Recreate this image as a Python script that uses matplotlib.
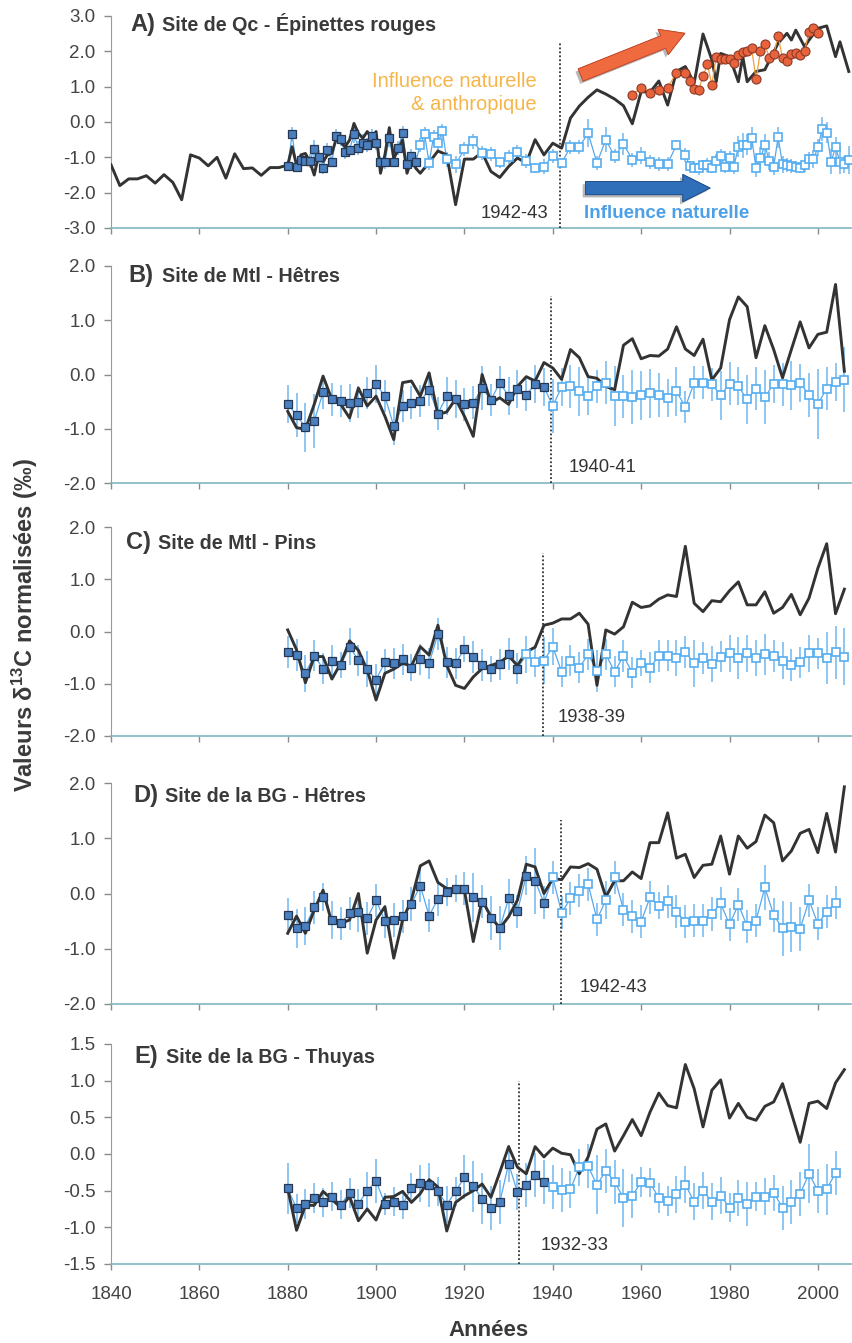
import matplotlib
matplotlib.use('Agg')
import matplotlib.pyplot as plt
import matplotlib.patheffects as pe
from matplotlib.ticker import FormatStrFormatter

plt.rcParams['font.family'] = ['Liberation Sans', 'DejaVu Sans']
plt.rcParams['mathtext.default'] = 'regular'
plt.rcParams['axes.unicode_minus'] = False

W, H = 852, 1343

# ---------------- data ----------------
# Panel A - Qc, Epinettes rouges
a_black_years = (list(range(1840, 1880, 2)) + list(range(1880, 1910)) + list(range(1910, 1975, 2))
                 + [1976, 1977, 1978, 1980, 1982, 1983, 1984, 1986, 1988, 1991, 1993, 1994,
                    1995, 1997, 1998, 2000, 2002, 2004, 2005, 2007])
a_black = [-1.21, -1.80, -1.61, -1.61, -1.52, -1.73, -1.49, -1.71, -2.20, -0.93,
           -1.02, -1.24, -1.00, -1.59, -0.90, -1.32, -1.30, -1.51, -1.29, -1.29,
           -1.22, -0.70, -1.22, -0.93, -0.89, -1.12, -1.50, -0.93, -1.12, -0.93,
           -0.89, -0.46, -0.58, -0.70, -0.51, -0.04, -0.32, -0.46, -0.27, -0.46,
           -0.27, -1.45, -0.93, -0.16, -1.03, -0.79, -0.51, -1.45, -1.08, -1.31,
           -1.45, -1.15, -0.82, -0.93, -2.34, -1.05, -1.05, -0.86, -1.40, -1.57,
           -1.26, -1.02, -1.16, -0.50, -0.93, -0.60, -0.74, 0.11, 0.45, 0.70,
           0.91, 0.79, 0.65, 0.46, -0.05, 0.86, 0.84, 1.16, 0.48, 1.43,
           1.57, 1.10, 2.49,
           1.76, 1.14, 1.94, 1.85, 1.14, 1.85, 1.14, 1.43, 1.48, 2.23, 2.51, 2.32,
           2.60, 2.13, 2.32, 2.65, 2.72, 1.85, 2.27, 1.43]
a_fill_years = list(range(1880, 1910))
a_fill = [-1.24, -0.35, -1.27, -1.08, -1.10, -1.10, -0.77, -0.98, -1.31, -0.79,
          -1.12, -0.39, -0.48, -0.86, -0.79, -0.35, -0.73, -0.60, -0.65, -0.40,
          -0.60, -1.12, -1.12, -0.46, -1.12, -0.73, -0.32, -1.20, -0.95, -1.12]
a_fill_err = [0.15, 0.2, 0.15, 0.15, 0.15, 0.2, 0.25, 0.2, 0.15, 0.2,
              0.15, 0.2, 0.2, 0.2, 0.15, 0.25, 0.2, 0.25, 0.2, 0.2,
              0.2, 0.15, 0.2, 0.25, 0.15, 0.2, 0.2, 0.25, 0.2, 0.2]
a_open_years = [1910, 1911, 1912, 1913, 1914, 1915, 1916] + list(range(1918, 1971, 2)) + list(range(1971, 2008))
a_open = [-0.65, -0.35, -1.17, -0.42, -0.60, -0.25, -1.06,
          -1.20, -0.77, -0.55, -0.88, -0.91, -1.14, -0.99, -0.85, -1.11, -1.30,
          -1.26, -0.95, -1.16, -0.70, -0.70, -0.32, -1.16, -0.50, -0.97, -0.62,
          -1.07, -0.95, -1.14, -1.18, -1.18, -0.65, -0.93,
          -1.24, -1.30, -1.30, -1.22, -1.21, -1.30, -1.11, -0.97, -1.28, -1.02,
          -1.26, -0.70, -0.66, -0.64, -0.44, -1.30, -1.02, -0.65, -1.11, -1.26,
          -0.43, -1.20, -1.22, -1.25, -1.26, -1.30, -1.21, -1.06, -1.05, -0.72,
          -0.20, -0.30, -1.12, -0.72, -1.12, -1.20, -1.07]
a_open_err = [0.2, 0.2, 0.2, 0.2, 0.2, 0.2, 0.2,
              0.25, 0.2, 0.2, 0.2, 0.2, 0.15, 0.2, 0.2, 0.2, 0.15,
              0.2, 0.2, 0.15, 0.2, 0.2, 0.4, 0.2, 0.35, 0.2, 0.3,
              0.2, 0.25, 0.2, 0.2, 0.2, 0.15, 0.2,
              0.15, 0.15, 0.2, 0.15, 0.2, 0.15, 0.2, 0.2, 0.15, 0.2,
              0.2, 0.3, 0.35, 0.3, 0.3, 0.25, 0.3, 0.3, 0.25, 0.25,
              0.3, 0.25, 0.2, 0.2, 0.15, 0.15, 0.2, 0.2, 0.25, 0.25,
              0.35, 0.3, 0.35, 0.3, 0.35, 0.25, 0.4]
a_orange_years = [1958, 1960, 1962, 1964, 1966, 1968] + list(range(1970, 2001))
a_orange = [0.77, 0.97, 0.83, 0.91, 0.97, 1.40, 1.40, 1.16, 0.94, 0.91,
            1.29, 1.63, 1.05, 1.85, 1.78, 1.78, 1.78, 1.68, 1.90, 1.97,
            2.02, 2.09, 1.21, 2.00, 2.20, 1.82, 1.92, 2.44, 1.80, 1.73,
            1.92, 1.94, 1.90, 2.01, 2.56, 2.65, 2.53]

# Panel B - Mtl, Hetres
b_black_years = list(range(1880, 2007, 2))
b_black = [-0.68, -0.98, -1.01, -0.55, -0.03, -0.46, -0.55, -0.80, -0.25, -0.58,
           -0.40, -0.77, -1.20, -0.15, -0.12, -0.40, 0.03, -0.74, -0.69, -0.45,
           -0.77, -1.14, 0.00, -0.52, -0.43, -0.55, -0.22, -0.04, -0.12, 0.22,
           0.12, -0.09, 0.46, 0.31, -0.04, -0.07, -0.22, -0.28, 0.54, 0.66,
           0.29, 0.35, 0.34, 0.47, 0.88, 0.47, 0.35, 0.65, -0.10, 0.12,
           1.01, 1.43, 1.25, 0.31, 0.90, 0.46, -0.06, 0.46, 0.97, 0.49,
           0.74, 0.78, 1.66, 0.06]
b_fill_years = list(range(1880, 1939, 2))
b_fill = [-0.54, -0.75, -0.97, -0.86, -0.33, -0.46, -0.49, -0.52, -0.51, -0.34,
          -0.18, -0.40, -0.95, -0.58, -0.52, -0.49, -0.28, -0.72, -0.40, -0.45,
          -0.55, -0.52, -0.25, -0.47, -0.15, -0.40, -0.26, -0.38, -0.17, -0.23]
b_fill_err = [0.35, 0.4, 0.45, 0.5, 0.3, 0.3, 0.3, 0.35, 0.3, 0.3,
              0.35, 0.3, 0.35, 0.3, 0.3, 0.3, 0.3, 0.3, 0.35, 0.35,
              0.3, 0.3, 0.4, 0.3, 0.3, 0.35, 0.35, 0.3, 0.35, 0.35]
b_open_years = list(range(1940, 2007, 2))
b_open = [-0.58, -0.23, -0.22, -0.31, -0.40, -0.22, -0.15, -0.40, -0.40, -0.42,
          -0.38, -0.35, -0.38, -0.44, -0.31, -0.60, -0.15, -0.15, -0.18, -0.38,
          -0.17, -0.22, -0.46, -0.26, -0.42, -0.17, -0.18, -0.20, -0.15, -0.38,
          -0.54, -0.26, -0.14, -0.10]
b_open_err = [0.5, 0.35, 0.4, 0.45, 0.35, 0.3, 0.4, 0.55, 0.4, 0.5,
              0.45, 0.45, 0.4, 0.35, 0.45, 0.3, 0.3, 0.3, 0.3, 0.45,
              0.4, 0.35, 0.45, 0.4, 0.5, 0.35, 0.4, 0.45, 0.35, 0.4,
              0.65, 0.4, 0.35, 0.6]

# Panel C - Mtl, Pins
c_black_years = list(range(1880, 2007, 2))
c_black = [0.03, -0.35, -0.98, -0.48, -0.48, -0.91, -0.61, -0.18, -0.36, -0.74,
           -1.31, -0.80, -0.72, -0.61, -0.66, -0.29, -0.45, 0.12, -0.65, -1.03,
           -1.09, -0.87, -0.71, -0.65, -0.59, -0.47, -0.65, -0.39, -0.30, 0.12,
           0.16, 0.24, 0.24, 0.35, 0.14, -1.03, 0.03, -0.05, 0.09, 0.56,
           0.46, 0.49, 0.62, 0.70, 0.67, 1.63, 0.54, 0.38, 0.59, 0.57,
           0.78, 0.95, 0.51, 0.51, 0.76, 0.35, 0.46, 0.71, 0.32, 0.64,
           1.21, 1.68, 0.34, 0.81]
c_fill_years = list(range(1880, 1933, 2))
c_fill = [-0.39, -0.45, -0.80, -0.46, -0.71, -0.56, -0.64, -0.29, -0.55, -0.72,
          -0.92, -0.59, -0.61, -0.53, -0.69, -0.53, -0.61, -0.05, -0.59, -0.61,
          -0.33, -0.49, -0.64, -0.71, -0.63, -0.43, -0.71]
c_fill_err = [0.3, 0.3, 0.35, 0.3, 0.3, 0.3, 0.25, 0.35, 0.3, 0.35,
              0.3, 0.25, 0.3, 0.3, 0.25, 0.3, 0.3, 0.3, 0.3, 0.3,
              0.25, 0.3, 0.3, 0.25, 0.3, 0.3, 0.3]
c_open_years = list(range(1934, 2007, 2))
c_open = [-0.44, -0.58, -0.56, -0.29, -0.77, -0.56, -0.69, -0.44, -0.75, -0.44,
          -0.77, -0.47, -0.79, -0.61, -0.69, -0.47, -0.46, -0.51, -0.39, -0.61,
          -0.51, -0.62, -0.48, -0.42, -0.51, -0.42, -0.51, -0.44, -0.47, -0.56,
          -0.64, -0.59, -0.42, -0.42, -0.51, -0.40, -0.48]
c_open_err = [0.35, 0.3, 0.45, 0.35, 0.3, 0.3, 0.3, 0.3, 0.4, 0.3,
              0.3, 0.3, 0.3, 0.25, 0.3, 0.3, 0.3, 0.35, 0.3, 0.45,
              0.3, 0.35, 0.3, 0.35, 0.4, 0.35, 0.35, 0.4, 0.3, 0.35,
              0.3, 0.3, 0.35, 0.3, 0.5, 0.5, 0.55]

# Panel D - BG, Hetres
d_black_years = list(range(1880, 2007, 2))
d_black = [-0.72, -0.41, -0.72, -0.30, 0.06, -0.54, -0.54, -0.48, 0.00, -1.08,
           -0.48, -0.24, -1.17, -0.48, -0.12, 0.50, 0.59, 0.20, 0.09, 0.09,
           0.06, -0.87, -0.12, -0.42, -0.63, -0.42, -0.12, 0.53, 0.48, 0.00,
           0.27, 0.25, 0.48, 0.47, 0.54, 0.44, -0.06, 0.23, 0.23, 0.39,
           0.27, 0.92, 0.92, 1.46, 0.64, 0.71, 0.29, 0.51, 0.53, 1.04,
           0.35, 1.04, 0.82, 0.94, 1.42, 1.28, 0.59, 0.77, 1.09, 1.16,
           0.74, 1.45, 0.75, 1.93]
d_fill_years = list(range(1880, 1939, 2))
d_fill = [-0.39, -0.63, -0.59, -0.25, -0.06, -0.48, -0.54, -0.36, -0.34, -0.45,
          -0.12, -0.50, -0.48, -0.41, -0.19, 0.14, -0.40, -0.10, 0.03, 0.09,
          0.09, -0.07, -0.15, -0.45, -0.63, -0.09, -0.32, 0.32, 0.23, -0.17]
d_fill_err = [0.3, 0.35, 0.35, 0.3, 0.25, 0.35, 0.3, 0.3, 0.35, 0.3,
              0.3, 0.3, 0.3, 0.3, 0.3, 0.3, 0.3, 0.3, 0.25, 0.25,
              0.3, 0.45, 0.3, 0.4, 0.4, 0.35, 0.3, 0.35, 0.6, 0.3]
d_open_years = list(range(1940, 2005, 2))
d_open = [0.29, -0.35, -0.09, 0.05, 0.17, -0.47, -0.12, 0.29, -0.29, -0.41,
          -0.51, -0.07, -0.22, -0.14, -0.33, -0.51, -0.49, -0.49, -0.37, -0.18,
          -0.56, -0.20, -0.59, -0.49, 0.11, -0.39, -0.63, -0.61, -0.64, -0.12,
          -0.55, -0.33, -0.17]
d_open_err = [0.3, 0.3, 0.3, 0.3, 0.3, 0.3, 0.35, 0.3, 0.3, 0.3,
              0.3, 0.3, 0.25, 0.3, 0.3, 0.3, 0.3, 0.3, 0.3, 0.3,
              0.3, 0.3, 0.3, 0.3, 0.4, 0.3, 0.5, 0.45, 0.4, 0.3,
              0.3, 0.3, 0.3]

# Panel E - BG, Thuyas
e_black_years = list(range(1880, 2007, 2))
e_black = [-0.47, -1.04, -0.70, -0.70, -0.51, -0.62, -0.73, -0.58, -0.91, -0.75,
           -0.90, -0.59, -0.58, -0.51, -0.66, -0.54, -0.35, -0.45, -1.05, -0.66,
           -0.57, -0.50, -0.41, -0.59, -0.25, 0.10, -0.18, -0.27, 0.10, -0.04,
           0.08, 0.01, -0.01, -0.27, -0.04, 0.34, 0.41, 0.04, 0.25, 0.47,
           0.25, 0.57, 0.83, 0.66, 0.63, 1.22, 0.89, 0.37, 0.87, 1.01,
           0.49, 0.69, 0.50, 0.46, 0.65, 0.71, 0.96, 0.56, 0.16, 0.69,
           0.72, 0.62, 0.97, 1.15]
e_fill_years = list(range(1880, 1939, 2))
e_fill = [-0.47, -0.74, -0.68, -0.60, -0.66, -0.58, -0.69, -0.53, -0.68, -0.50,
          -0.37, -0.68, -0.65, -0.69, -0.46, -0.40, -0.42, -0.51, -0.69, -0.51,
          -0.32, -0.44, -0.61, -0.73, -0.66, -0.13, -0.52, -0.42, -0.29, -0.38]
e_fill_err = [0.35, 0.2, 0.2, 0.2, 0.2, 0.2, 0.2, 0.2, 0.2, 0.25,
              0.3, 0.15, 0.2, 0.2, 0.2, 0.25, 0.3, 0.2, 0.25, 0.2,
              0.3, 0.35, 0.35, 0.3, 0.3, 0.25, 0.25, 0.3, 0.3, 0.3]
e_open_years = list(range(1940, 2005, 2))
e_open = [-0.45, -0.49, -0.48, -0.18, -0.17, -0.42, -0.23, -0.38, -0.60, -0.57,
          -0.38, -0.39, -0.60, -0.64, -0.55, -0.42, -0.65, -0.50, -0.65, -0.57,
          -0.73, -0.60, -0.68, -0.58, -0.58, -0.53, -0.73, -0.65, -0.54, -0.27,
          -0.50, -0.48, -0.26]
e_open_err = [0.3, 0.3, 0.25, 0.25, 0.3, 0.4, 0.3, 0.3, 0.4, 0.3,
              0.2, 0.2, 0.2, 0.2, 0.25, 0.25, 0.25, 0.25, 0.25, 0.25,
              0.2, 0.25, 0.3, 0.2, 0.25, 0.25, 0.3, 0.3, 0.3, 0.4,
              0.3, 0.35, 0.3]

# ---------------- style ----------------
DARK = '#333333'
TXT = '#3a3a3a'
BLUE_LINE = '#5aa8ea'
BLUE_BAR = '#6fb6f0'
BLUE_FILL = '#4a7fc0'
BLUE_EDGE = '#27374f'
OPEN_EDGE = '#55aef0'
ORANGE = '#e8623c'

fig = plt.figure(figsize=(W / 100, H / 100), dpi=100)


def px(x, y):
    # pixel position -> figure fraction
    return x / W, 1 - y / H


def make_axes(top, bottom):
    return fig.add_axes([111 / W, 1 - bottom / H, 740 / W, (bottom - top) / H])


def draw(ax, black, fill, open_, ylim, yticks, brk):
    bx, by = black
    fx, fy, fe = fill
    ox, oy, oe = open_

    # thin blue line linking all squares, then error bars
    ax.plot(fx + ox, fy + oy, '-', color=BLUE_LINE, lw=0.9, zorder=2)
    ax.errorbar(fx, fy, yerr=fe, fmt='none', ecolor=BLUE_BAR, elinewidth=1.1, capsize=0, zorder=1)
    ax.errorbar(ox, oy, yerr=oe, fmt='none', ecolor=BLUE_BAR, elinewidth=1.1, capsize=0, zorder=1)

    ax.plot(bx, by, '-', color=DARK, lw=2.1, zorder=4)

    ax.plot(fx, fy, 's', ms=5.6, mfc=BLUE_FILL, mec=BLUE_EDGE, mew=0.9, zorder=5)
    ax.plot(ox, oy, 's', ms=5.2, mfc='white', mec=OPEN_EDGE, mew=1.2, zorder=5)

    # break year
    ax.plot([brk[0], brk[0]], [ylim[0], brk[1]], color=DARK, lw=1.3, ls=(0, (1, 1.2)), zorder=3)

    ax.set_xlim(1840, 2007.5)
    ax.set_ylim(*ylim)
    ax.set_yticks(yticks)
    ax.set_xticks(range(1840, 2001, 20))
    ax.yaxis.set_major_formatter(FormatStrFormatter('%.1f'))
    ax.tick_params(axis='y', direction='out', length=5, width=1, color='#8a8a8a',
                   labelsize=13.5, labelcolor='#444444', pad=6)
    ax.tick_params(axis='x', direction='out', length=4, width=1, color='#8a8a8a',
                   labelsize=13.5, labelcolor='#444444', pad=12)
    ax.tick_params(axis='x', labelbottom=False)
    for s in ['top', 'right']:
        ax.spines[s].set_visible(False)
    ax.spines['left'].set_color('#9a9a9a')
    ax.spines['bottom'].set_color('#7fb5c0')
    ax.spines['bottom'].set_linewidth(1.2)
    ax.patch.set_alpha(0)


def title(letter, text, xl, xr, base):
    fig.text(*px(xl, base), letter, fontsize=17, fontweight='bold', color=TXT, va='baseline')
    fig.text(*px(xr, base), text, fontsize=14.2, fontweight='bold', color=TXT, va='baseline')


# ---------------- panels ----------------
axA = make_axes(16, 228)
draw(axA, (a_black_years, a_black), (a_fill_years, a_fill, a_fill_err),
     (a_open_years, a_open, a_open_err), (-3, 3), [-3, -2, -1, 0, 1, 2, 3], (1941.6, 2.23))
axA.plot(a_orange_years, a_orange, '-', color='#f2a040', lw=0.9, zorder=5)
axA.plot(a_orange_years, a_orange, 'o', ms=6.5, mfc=ORANGE, mec='#8a3a26', mew=0.8, zorder=6)

shadow = [pe.withSimplePatchShadow(offset=(-2, -2), shadow_rgbFace='#9a9a9a', alpha=0.7), pe.Normal()]
axA.annotate('', xy=(1969.9, 2.51), xytext=(1946.3, 1.33),
             arrowprops=dict(arrowstyle='simple,head_length=1.2,head_width=1.4,tail_width=0.68',
                             mutation_scale=14, fc='#f06a40', ec='#c04a2a', lw=0.6,
                             shrinkA=0, shrinkB=0, path_effects=shadow), zorder=7)
axA.annotate('', xy=(1975.6, -1.87), xytext=(1947.4, -1.87),
             arrowprops=dict(arrowstyle='simple,head_length=1.4,head_width=1.4,tail_width=0.68',
                             mutation_scale=14, fc='#2f6eb8', ec='#1f4f8a', lw=0.6,
                             shrinkA=0, shrinkB=0, path_effects=shadow), zorder=7)
fig.text(*px(537, 93), 'Influence naturelle\n& anthropique', fontsize=14.5, color='#f5b54a',
         ha='right', va='center', multialignment='right', linespacing=1.3)
fig.text(*px(584, 213), 'Influence naturelle', fontsize=13.5, fontweight='bold',
         color='#4da0e8', ha='left', va='center')
title('A)', 'Site de Qc - Épinettes rouges', 130, 162, 31)
fig.text(*px(548, 213), '1942-43', fontsize=13.3, color=DARK, ha='right', va='center')

axB = make_axes(266, 483)
draw(axB, (b_black_years, b_black), (b_fill_years, b_fill, b_fill_err),
     (b_open_years, b_open, b_open_err), (-2, 2), [-2, -1, 0, 1, 2], (1939.6, 1.45))
title('B)', 'Site de Mtl - Hêtres', 128, 162, 282)
fig.text(*px(569, 467), '1940-41', fontsize=13.3, color=DARK, ha='left', va='center')

axC = make_axes(527, 736)
draw(axC, (c_black_years, c_black), (c_fill_years, c_fill, c_fill_err),
     (c_open_years, c_open, c_open_err), (-2, 2), [-2, -1, 0, 1, 2], (1937.7, 1.51))
title('C)', 'Site de Mtl - Pins', 126, 158, 549)
fig.text(*px(558, 718), '1938-39', fontsize=13.3, color=DARK, ha='left', va='center')

axD = make_axes(783, 1004)
draw(axD, (d_black_years, d_black), (d_fill_years, d_fill, d_fill_err),
     (d_open_years, d_open, d_open_err), (-2, 2), [-2, -1, 0, 1, 2], (1941.8, 1.33))
title('D)', 'Site de la BG - Hêtres', 133, 165, 802)
fig.text(*px(580, 987), '1942-43', fontsize=13.3, color=DARK, ha='left', va='center')

axE = make_axes(1044, 1264)
draw(axE, (e_black_years, e_black), (e_fill_years, e_fill, e_fill_err),
     (e_open_years, e_open, e_open_err), (-1.5, 1.5), [-1.5, -1.0, -0.5, 0.0, 0.5, 1.0, 1.5], (1932.3, 1.0))
axE.tick_params(axis='x', labelbottom=True)
title('E)', 'Site de la BG - Thuyas', 134, 166, 1063)
fig.text(*px(541, 1246), '1932-33', fontsize=13.3, color=DARK, ha='left', va='center')

# shared labels
fig.text(*px(25, 625), 'Valeurs δ$^{13}$C normalisées (‰)', rotation=90, fontsize=17,
         fontweight='bold', color=TXT, ha='center', va='center')
fig.text(*px(488, 1331), 'Années', fontsize=16, fontweight='bold', color=TXT,
         ha='center', va='center')

fig.savefig('out.png', dpi=100, facecolor='white')
